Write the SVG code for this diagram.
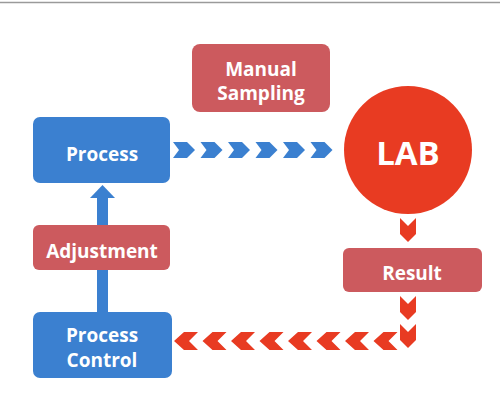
<svg xmlns="http://www.w3.org/2000/svg" width="500" height="408" viewBox="0 0 500 408">
<style>
.blue{fill:#3b80d0}
.redbox{fill:#cc5a5e}
.lab{fill:#e83b22}
.t{font-family:"Open Sans","Liberation Sans",sans-serif;font-weight:700;fill:#ffffff;text-anchor:middle}
.s{font-size:19px}
.chevB{fill:#3b80d0}
.chevR{fill:#e83b22}
</style>
<defs>
<polygon id="cR" points="-11,-8 3,-8 11,0 3,8 -11,8 -5,0"/>
<polygon id="cL" points="12,-9 -2,-9 -12,0 -2,9 12,9 3,0"/>
<polygon id="cD" points="-8,-12 0,-4 8,-12 8,4 0,12 -8,4"/>
</defs>
<rect width="500" height="408" fill="#ffffff"/>
<line x1="0" y1="2.5" x2="500" y2="2.5" stroke="#9a9a9a" stroke-width="1.5"/>
<g id="connectors">
<g class="chevB">
<use href="#cR" x="184" y="150"/>
<use href="#cR" x="211.5" y="150"/>
<use href="#cR" x="239" y="150"/>
<use href="#cR" x="266.5" y="150"/>
<use href="#cR" x="294" y="150"/>
<use href="#cR" x="321.5" y="150"/>
</g>
<g class="chevR">
<use href="#cD" x="408" y="230"/>
<use href="#cD" x="408" y="308"/>
<use href="#cD" x="408" y="336"/>
<use href="#cL" x="186" y="341"/>
<use href="#cL" x="214.5" y="341"/>
<use href="#cL" x="243" y="341"/>
<use href="#cL" x="271.5" y="341"/>
<use href="#cL" x="300" y="341"/>
<use href="#cL" x="328.5" y="341"/>
<use href="#cL" x="357" y="341"/>
<use href="#cL" x="385.5" y="341"/>
</g>
<g class="blue">
<rect x="97" y="196" width="11" height="117"/>
<polygon points="90,198 102.5,185 115,198"/>
</g>
</g>
<g id="manual-sampling">
<rect class="redbox" x="192" y="44" width="138" height="68" rx="8"/>
<text class="t s" x="261" y="76">Manual</text>
<text class="t s" x="261" y="100">Sampling</text>
</g>
<g id="process">
<rect class="blue" x="33" y="117" width="137" height="66" rx="7"/>
<text class="t s" x="102" y="161">Process</text>
</g>
<g id="lab">
<circle class="lab" cx="408" cy="150" r="64"/>
<text class="t" x="408" y="165" font-size="33" font-weight="600">LAB</text>
</g>
<g id="adjustment">
<rect class="redbox" x="33" y="225" width="137" height="45" rx="6"/>
<text class="t s" x="102" y="258">Adjustment</text>
</g>
<g id="result">
<rect class="redbox" x="343" y="248" width="139" height="44" rx="6"/>
<text class="t s" x="412" y="280">Result</text>
</g>
<g id="process-control">
<rect class="blue" x="33" y="312" width="139" height="66" rx="7"/>
<text class="t s" x="102" y="342">Process</text>
<text class="t s" x="102" y="367">Control</text>
</g>
</svg>
